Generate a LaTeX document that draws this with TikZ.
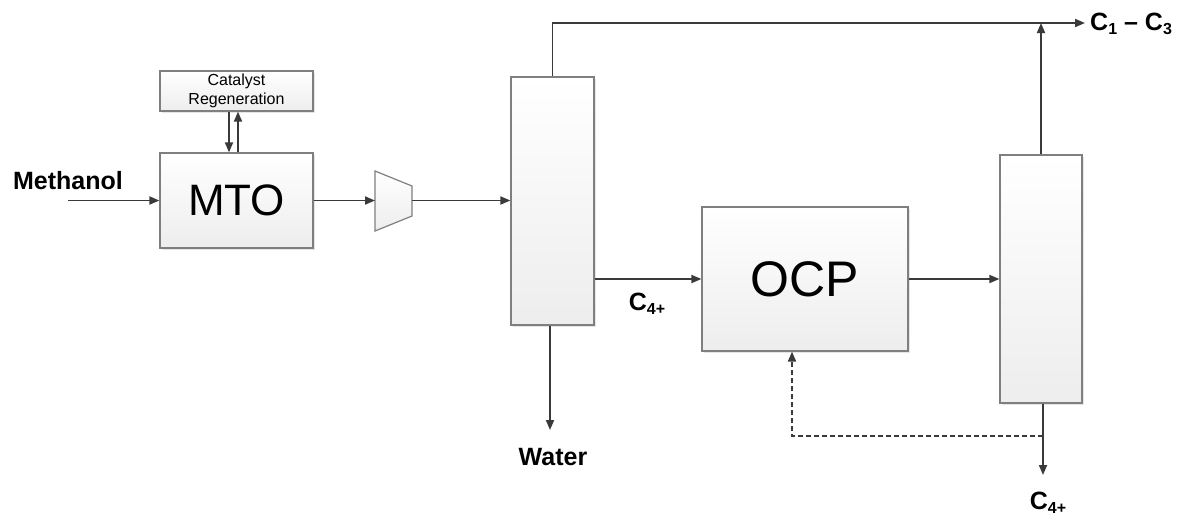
\documentclass[tikz,border=0pt]{standalone}
\usepackage{fontspec}
\setmainfont{Liberation Sans}
\usetikzlibrary{arrows.meta,shadows}
\definecolor{ln}{HTML}{3A3A3A}
\definecolor{bd}{HTML}{7F7F7F}
\newcommand{\mysub}[1]{\raisebox{-0.28ex}{\fontsize{16}{16}\selectfont #1}}
\begin{document}
\begin{tikzpicture}[x=1pt,y=-1pt,
  unit/.style={draw=bd, line width=1.2pt, top color=white, bottom color=black!7,
     drop shadow={shadow xshift=2pt, shadow yshift=-2pt, fill=black!20, opacity=.5},
     inner sep=0pt, font=\fontsize{44}{48}\selectfont},
  arr/.style={draw=ln, line width=1.8pt, -{Triangle[length=10pt,width=8pt]}},
  lbl/.style={font=\fontsize{25}{28}\selectfont\bfseries, inner sep=0pt}]
\useasboundingbox (0,0) rectangle (1184,515);
% units
\node[unit, minimum width=153pt, minimum height=40pt, font=\fontsize{16}{19}\selectfont, align=center] (cat) at (236.5,91) {Catalyst\\Regeneration};
\node[unit, minimum width=153pt, minimum height=95pt] (mto) at (236.5,200.5) {MTO};
\node[unit, minimum width=83pt, minimum height=248pt] (col1) at (552.5,201) {};
\node[unit, minimum width=206pt, minimum height=144pt, font=\fontsize{50}{54}\selectfont] (ocp) at (805,279) {OCP};
\node[unit, minimum width=82pt, minimum height=248pt] (col2) at (1041,279) {};
% compressor
\draw[draw=bd, line width=1.2pt, top color=white, bottom color=black!7] (375,171) -- (412,186) -- (412,216) -- (375,231) -- cycle;
\coordinate (compin) at (375,200.5);
\coordinate (compout) at (412,200.5);
% free end coordinates
\coordinate (meth) at (68,200.5);
\coordinate (c13) at (1085,23);
\coordinate (topR) at (1041,23);
\coordinate (water) at (550,430);
\coordinate (c4out) at (1043,475);
\coordinate (split) at (1043,436);
% labels
\node[lbl] (methl) at (68,181) {Methanol};
\node[lbl, anchor=west] (c13l) at (1090,24) {C\mysub{1} – C\mysub{3}};
\node[lbl] (waterl) at (553,457) {Water};
\node[lbl] (c4a) at (647,304) {C\mysub{4+}};
\node[lbl] (c4b) at (1048,503) {C\mysub{4+}};
% connectors
\draw[arr] (meth) -- (mto.west);
\draw[arr] ([xshift=-7.5pt]cat.south) -- ([xshift=-7.5pt]mto.north);
\draw[arr] ([xshift=1.5pt]mto.north) -- ([xshift=1.5pt]cat.south);
\draw[arr] (mto.east) -- (compin);
\draw[arr] (compout) -- (col1.west |- compout);
\draw[arr] (col1.north) |- (c13);
\draw[arr] (col2.north) -- (topR);
\draw[arr] (col1.east |- ocp.west) -- (ocp.west);
\draw[arr] (ocp.east) -- (col2.west |- ocp.east);
\draw[arr] (col1.south -| water) -- (water);
\draw[arr] (col2.south -| c4out) -- (c4out);
\draw[arr, dashed, dash pattern=on 5pt off 3pt] (split) -| ([xshift=-13pt]ocp.south);
\end{tikzpicture}
\end{document}
